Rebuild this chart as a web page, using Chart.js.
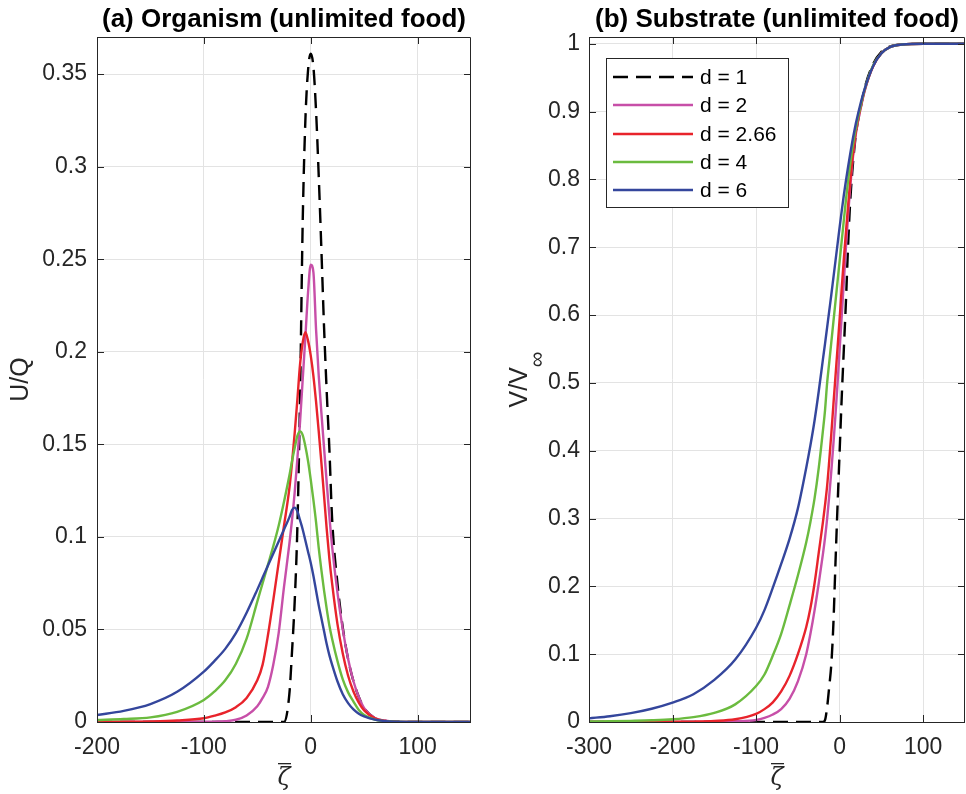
<!DOCTYPE html>
<html>
<head>
<meta charset="utf-8">
<script src="https://cdn.jsdelivr.net/npm/chart.js@4.4.0/dist/chart.umd.min.js"></script>
<style>
  body { margin: 0; background: #fff; }
  #chartA { position: absolute; left: 0; top: 0; }
  #chartB { position: absolute; left: 480px; top: 0; }
</style>
</head>
<body>
<canvas id="chartA" width="480" height="794"></canvas>
<canvas id="chartB" width="486" height="794"></canvas>
<script>
// ---- data ----
const seriesLabels = ['d = 1', 'd = 2', 'd = 2.66', 'd = 4', 'd = 6'];

// (a) organism, U/Q
const zetaA = [-200,-175,-150,-125,-100,-90,-80,-70,-60,-50,-45,-40,-35,-30,-25,-20,-17.5,-15,-12.5,-10,
  -7.5,-5,-2.5,0,2.5,5,7.5,10,12.5,15,17.5,20,25,30,35,40,45,50,60,70,80,100,125,150];
const uD1 = [0,0,0,0,0, 0,0,0,0,0, 0,0,0,0,0, 0.015,0.038,0.065,0.105,0.175,
  0.27,0.325,0.352,0.361,0.354, 0.33,0.295,0.255,0.213,0.178, 0.147,0.11,0.075,0.051,0.034,
  0.022,0.0135,0.0075,0.002,0.0006, 0.0002,0,0,0];
const uD2 = [0,0,0,0,0.0001, 0.0002,0.0004,0.0012,0.0035,0.0085, 0.013,0.019,0.031,0.048,0.073,
  0.096,0.109,0.124,0.142,0.162, 0.185,0.208,0.232,0.247,0.243, 0.212,0.187,0.167,0.148,0.129,
  0.111,0.095,0.07,0.05,0.034, 0.022,0.0135,0.0075,0.0022,0.0007, 0.0002,0,0,0];
const uD266 = [0,0.0001,0.0003,0.0008,0.002, 0.0034,0.0052,0.008,0.013,0.0225, 0.031,0.047,0.066,0.086,0.106,
  0.126,0.14,0.156,0.174,0.193, 0.205,0.2105,0.206,0.198,0.187, 0.173,0.157,0.14,0.122,0.104,
  0.088,0.075,0.053,0.037,0.025, 0.0165,0.0105,0.0063,0.002,0.0006, 0.0002,0,0,0];
const uD4 = [0.0011,0.0016,0.0025,0.0055,0.0119, 0.0165,0.0225,0.0315,0.045,0.065, 0.075,0.085,0.095,0.106,0.119,
  0.133,0.141,0.148,0.1545,0.157, 0.155,0.149,0.141,0.131,0.12, 0.108,0.094,0.082,0.071,0.061,
  0.052,0.045,0.033,0.023,0.016, 0.011,0.0065,0.0038,0.0013,0.0004, 0.0001,0,0,0];
const uD6 = [0.0038,0.006,0.0097,0.0163,0.0272, 0.033,0.0395,0.048,0.059,0.0715, 0.078,0.0845,0.091,0.0975,0.104,
  0.1105,0.1145,0.1158,0.1138,0.109, 0.104,0.098,0.092,0.086,0.079, 0.071,0.063,0.056,0.049,0.042,
  0.036,0.031,0.022,0.015,0.0102, 0.0068,0.0045,0.003,0.0013,0.0005, 0.0002,0,0,0];

// (b) substrate, V/V_inf
const zetaB = [-300,-275,-250,-225,-200,-175,-150,-125,-100,-90,-80,-70,-60,-50,-40,-35,-30,-25,-20,-17.5,
  -15,-12.5,-10,-7.5,-5,-2.5,0,2.5,5,7.5,10,12.5,15,17.5,20,25,30,40,50,60,75,100,125,150];
const vD1 = [0,0,0,0,0, 0,0,0,0,0, 0,0,0,0,0, 0,0,0,0,0.003,
  0.022,0.052,0.085,0.145,0.235, 0.32,0.40,0.48,0.55,0.62, 0.70,0.765,0.81,0.845,0.872,
  0.905,0.935,0.97,0.988,0.996, 0.999,1,1,1];
const vD2 = [0,0,0,0,0, 0.0002,0.0004,0.001,0.003,0.006, 0.011,0.019,0.034,0.06,0.1, 0.13,0.165,0.205,0.248,0.272,
  0.3,0.333,0.37,0.41,0.453, 0.5,0.55,0.6,0.65,0.7, 0.745,0.787,0.822,0.85,0.872,
  0.904,0.931,0.967,0.986,0.995, 0.999,1,1,1];
const vD266 = [0,0,0,0.0001,0.0003, 0.0006,0.0015,0.004,0.012,0.019, 0.029,0.045,0.068,0.1,0.14, 0.168,0.205,0.25,0.295,0.32,
  0.348,0.385,0.425,0.468,0.51, 0.552,0.595,0.64,0.683,0.722, 0.76,0.795,0.827,0.853,0.875,
  0.906,0.932,0.967,0.986,0.995, 0.999,1,1,1];
const vD4 = [0.0007,0.0011,0.0017,0.0025,0.004, 0.0072,0.0135,0.026,0.053,0.07, 0.098,0.13,0.172,0.216,0.265, 0.295,0.33,0.375,0.43,0.46,
  0.5,0.53,0.56,0.59,0.62, 0.65,0.68,0.71,0.74,0.77, 0.797,0.822,0.844,0.863,0.88,
  0.908,0.933,0.968,0.986,0.995, 0.999,1,1,1];
const vD6 = [0.0054,0.0085,0.013,0.0195,0.0285, 0.041,0.062,0.092,0.139,0.165, 0.198,0.233,0.27,0.315,0.375, 0.408,0.445,0.488,0.535,0.558,
  0.582,0.606,0.63,0.655,0.68, 0.705,0.73,0.754,0.777,0.798, 0.818,0.837,0.855,0.871,0.886,
  0.912,0.934,0.967,0.986,0.995, 0.999,1,1,1];

const xTicksA = [-200, -100, 0, 100];
const yTicksA = [0, 0.05, 0.1, 0.15, 0.2, 0.25, 0.3, 0.35];
const xTicksB = [-300, -200, -100, 0, 100];
const yTicksB = [0, 0.1, 0.2, 0.3, 0.4, 0.5, 0.6, 0.7, 0.8, 0.9, 1];

// ---- styling ----
const lineColors = ['#000000', '#C74FA8', '#E8232B', '#6BBB3F', '#34469C'];
const axisColor = '#262626';
const gridColor = '#e3e3e3';
const fontFamily = '"Liberation Sans", Arial, sans-serif';

function toPoints(zeta, vals) {
  return zeta.map((z, i) => ({x: z, y: vals[i]}));
}

function makeDatasets(zeta, all) {
  return all.map((vals, i) => ({
    label: seriesLabels[i],
    data: toPoints(zeta, vals),
    borderColor: lineColors[i],
    borderWidth: 2.4,
    borderDash: i === 0 ? [15, 8] : [],
    pointRadius: 0,
    cubicInterpolationMode: 'monotone',
    order: all.length - 1 - i,
  }));
}

// box, inward ticks, title and axis labels (MATLAB look)
const frame = {
  id: 'frame',
  afterDatasetsDraw(chart, args, o) {
    const {ctx, chartArea: a, scales: {x, y}} = chart;
    ctx.save();
    ctx.strokeStyle = axisColor;
    ctx.lineWidth = 1;
    ctx.beginPath();
    x.ticks.forEach(t => {
      const px = Math.round(x.getPixelForValue(t.value)) + 0.5;
      ctx.moveTo(px, a.bottom); ctx.lineTo(px, a.bottom - 7);
      ctx.moveTo(px, a.top); ctx.lineTo(px, a.top + 7);
    });
    y.ticks.forEach(t => {
      const py = Math.round(y.getPixelForValue(t.value)) + 0.5;
      ctx.moveTo(a.left, py); ctx.lineTo(a.left + 7, py);
      ctx.moveTo(a.right, py); ctx.lineTo(a.right - 7, py);
    });
    ctx.rect(a.left + 0.5, a.top + 0.5, a.right - a.left - 1, a.bottom - a.top);
    ctx.stroke();

    const cx = (a.left + a.right) / 2;
    ctx.fillStyle = '#000';
    ctx.textAlign = 'center';
    ctx.textBaseline = 'alphabetic';
    ctx.font = 'bold 26px ' + fontFamily;
    ctx.fillText(o.title, cx, 27);

    // zeta with an overbar
    ctx.fillStyle = axisColor;
    ctx.font = 'italic 24px "DejaVu Serif", serif';
    ctx.fillText('\u03B6', cx, 785);
    ctx.fillRect(cx - 6, 763, 13, 1.3);

    ctx.translate(o.yLabelX, (a.top + a.bottom) / 2);
    ctx.rotate(-Math.PI / 2);
    ctx.font = '25px ' + fontFamily;
    const w1 = ctx.measureText(o.yMain).width;
    let w2 = 0;
    if (o.ySub) {
      ctx.font = '22px ' + fontFamily;
      w2 = ctx.measureText(o.ySub).width;
    }
    const x0 = -(w1 + w2) / 2;
    ctx.textAlign = 'left';
    ctx.font = '25px ' + fontFamily;
    ctx.fillText(o.yMain, x0, 0);
    if (o.ySub) {
      ctx.font = '22px ' + fontFamily;
      ctx.fillText(o.ySub, x0 + w1, 17);
    }
    ctx.restore();
  }
};

const legendBox = {
  id: 'legendBox',
  afterDraw(chart) {
    const {ctx, chartArea: a} = chart;
    const bx = a.left + 17, by = a.top + 21, bw = 182, bh = 149;
    ctx.save();
    ctx.fillStyle = '#fff';
    ctx.fillRect(bx, by, bw, bh);
    ctx.strokeStyle = axisColor;
    ctx.lineWidth = 1;
    ctx.strokeRect(bx + 0.5, by + 0.5, bw, bh);
    ctx.font = '21px ' + fontFamily;
    ctx.textAlign = 'left';
    ctx.textBaseline = 'middle';
    chart.data.datasets.forEach((ds, i) => {
      const yy = Math.round(by + 19 + i * 28.3);
      ctx.strokeStyle = ds.borderColor;
      ctx.lineWidth = ds.borderWidth;
      ctx.setLineDash(ds.borderDash);
      ctx.beginPath();
      ctx.moveTo(bx + 7, yy);
      ctx.lineTo(bx + 87, yy);
      ctx.stroke();
      ctx.setLineDash([]);
      ctx.fillStyle = '#000';
      ctx.fillText(ds.label, bx + 94, yy + 1);
    });
    ctx.restore();
  }
};

function makeConfig(p) {
  const tickFont = {family: fontFamily, size: 23};
  return {
    type: 'line',
    data: {datasets: makeDatasets(p.zeta, p.series)},
    plugins: p.plugins,
    options: {
      responsive: false,
      animation: false,
      devicePixelRatio: 1,
      layout: {padding: {top: 37, right: p.padRight, left: 0, bottom: 0}},
      plugins: {
        legend: {display: false},
        tooltip: {enabled: false},
        frame: {title: p.title, yMain: p.yMain, ySub: p.ySub, yLabelX: p.yLabelX},
      },
      scales: {
        x: {
          type: 'linear',
          min: p.xMin, max: p.xMax,
          afterBuildTicks: s => { s.ticks = p.xTicks.map(v => ({value: v})); },
          afterFit: s => { s.height = 72; },
          ticks: {padding: 12, color: axisColor, font: tickFont, autoSkip: false, maxRotation: 0,
                  callback: v => String(v)},
          grid: {color: gridColor, drawTicks: false},
          border: {display: false},
        },
        y: {
          type: 'linear',
          min: 0, max: p.yMax,
          afterBuildTicks: s => { s.ticks = p.yTicks.map(v => ({value: v})); },
          afterFit: s => { s.width = p.yWidth; },
          ticks: {padding: p.yPad, color: axisColor, font: tickFont, autoSkip: false,
                  callback: v => String(+v.toFixed(3))},
          grid: {color: gridColor, drawTicks: false},
          border: {display: false},
        },
      },
    },
  };
}

new Chart(document.getElementById('chartA'), makeConfig({
  zeta: zetaA, series: [uD1, uD2, uD266, uD4, uD6],
  xMin: -200, xMax: 150, yMax: 0.37, xTicks: xTicksA, yTicks: yTicksA,
  title: '(a) Organism (unlimited food)', yMain: 'U/Q', ySub: '', yLabelX: 28,
  padRight: 9, yWidth: 97, yPad: 10, plugins: [frame],
}));

new Chart(document.getElementById('chartB'), makeConfig({
  zeta: zetaB, series: [vD1, vD2, vD266, vD4, vD6],
  xMin: -300, xMax: 150, yMax: 1.01, xTicks: xTicksB, yTicks: yTicksB,
  title: '(b) Substrate (unlimited food)', yMain: 'V/V', ySub: '\u221E', yLabelX: 47,
  padRight: 1, yWidth: 109, yPad: 9, plugins: [frame, legendBox],
}));
</script>
</body>
</html>
